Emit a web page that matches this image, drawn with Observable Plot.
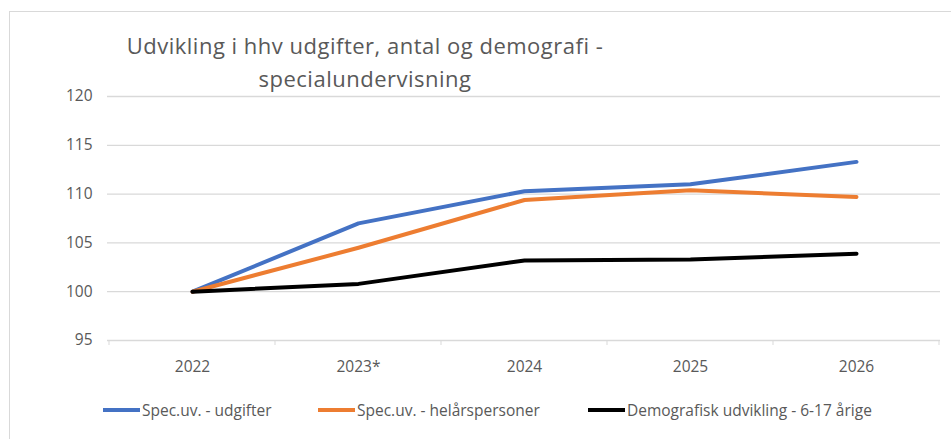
<!DOCTYPE html>
<html>
<head>
<meta charset="utf-8">
<script src="https://cdn.jsdelivr.net/npm/d3@7"></script>
<script src="https://cdn.jsdelivr.net/npm/@observablehq/plot@0.6"></script>
<style>
  html, body { margin: 0; padding: 0; background: #fff; }
  #wrap { position: relative; width: 951px; height: 439px; overflow: hidden; font-family: "Open Sans", sans-serif; color: #595959; }
  #frame { position: absolute; left: 9px; top: 11px; width: 1200px; height: 1200px; border: 1px solid #d9d9d9; box-sizing: border-box; }
  #title { position: absolute; left: 65px; width: 600px; top: 29px; text-align: center; font-size: 22px; letter-spacing: 0.5px; line-height: 33px; color: #595959; }
  #chart { position: absolute; left: 0; top: 0; }
  .leg { position: absolute; top: 399px; display: flex; align-items: center; font-size: 15.5px; color: #595959; white-space: nowrap; }
  .sw { width: 37px; height: 4px; margin-right: 2px; }
</style>
</head>
<body>
<div id="wrap">
  <div id="frame"></div>
  <div id="title">Udvikling i hhv udgifter, antal og demografi -<br>specialundervisning</div>
  <div id="chart"></div>
  <div id="legend"></div>
</div>
<script>
const years = ["2022", "2023*", "2024", "2025", "2026"];
const seriesNames = ["Spec.uv. - udgifter", "Spec.uv. - helårspersoner", "Demografisk udvikling - 6-17 årige"];
const udgifter = [100, 107.0, 110.3, 111.0, 113.3];
const helaarspersoner = [100, 104.5, 109.4, 110.4, 109.7];
const demografi = [100, 100.8, 103.2, 103.3, 103.9];
const colors = ["#4472C4", "#ED7D31", "#000000"];
const yTicks = [95, 100, 105, 110, 115, 120];

const valueArrays = [udgifter, helaarspersoner, demografi];
const data = [];
seriesNames.forEach((s, si) => years.forEach((yr, i) => data.push({series: s, year: yr, value: valueArrays[si][i]})));

// category boundary ticks drawn from the x scale
function boundaryTicks(index, scales, values, dims) {
  const x = scales.x;
  const step = x.step ? x.step() : (dims.width - dims.marginLeft - dims.marginRight) / years.length;
  const y0 = scales.y(95);
  const g = d3.create("svg:g").attr("stroke", "#d9d9d9").attr("stroke-width", 1);
  const xs = years.map(d => x(d) - step / 2).concat([x(years[years.length - 1]) + step / 2]);
  xs.forEach(px => g.append("line").attr("x1", px).attr("x2", px).attr("y1", y0).attr("y2", y0 + 5));
  return g.node();
}

const plot = Plot.plot({
  width: 951,
  height: 380,
  marginLeft: 107,
  marginRight: 11,
  marginTop: 96,
  marginBottom: 40,
  style: { fontFamily: "Open Sans, sans-serif", fontSize: "15.5px", color: "#595959", background: "transparent" },
  x: { type: "point", domain: years, padding: 0.5, label: null },
  y: { domain: [95, 120], ticks: yTicks, label: null },
  color: { domain: seriesNames, range: colors },
  marks: [
    Plot.ruleY(yTicks, { stroke: "#d9d9d9", strokeWidth: 1.3 }),
    boundaryTicks,
    Plot.axisY({ ticks: yTicks, tickSize: 0, tickPadding: 15, fill: "#595959", fontSize: 15.5 }),
    Plot.axisX({ tickSize: 0, tickPadding: 20, fill: "#595959", fontSize: 15.5 }),
    Plot.line(data, { x: "year", y: "value", z: "series", stroke: "series", strokeWidth: 4, strokeLinecap: "round", strokeLinejoin: "round" })
  ]
});
document.getElementById("chart").appendChild(plot);

const legendLefts = [103, 318, 588];
const legend = document.getElementById("legend");
seriesNames.forEach((s, i) => {
  const item = document.createElement("div");
  item.className = "leg";
  item.style.left = legendLefts[i] + "px";
  const sw = document.createElement("div");
  sw.className = "sw";
  sw.style.background = colors[i];
  const t = document.createElement("span");
  t.textContent = s;
  item.appendChild(sw);
  item.appendChild(t);
  legend.appendChild(item);
});
</script>
</body>
</html>
